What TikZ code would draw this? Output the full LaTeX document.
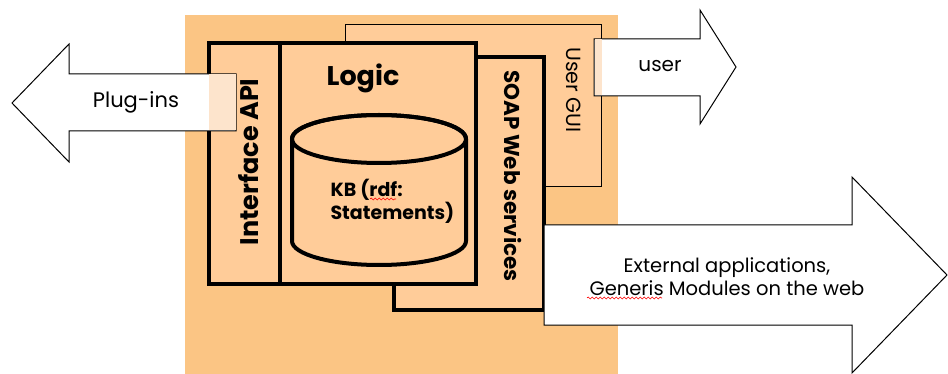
\documentclass[tikz,border=0pt]{standalone}
\usepackage{fontspec}
\setmainfont{Poppins}
\usetikzlibrary{positioning}
\usetikzlibrary{decorations.pathmorphing}

\definecolor{bgorange}{RGB}{251,197,132}
\definecolor{peach}{RGB}{255,204,153}
\definecolor{lightpeach}{RGB}{253,228,204}

\begin{document}
\begin{tikzpicture}[x=1pt, y=-1pt,
    box/.style={draw, fill=peach, inner sep=0pt},
    bigarrow/.style={draw, fill=white, line width=1pt, line join=miter},
    seen/.style={fill=lightpeach},
    squiggle/.style={red, line width=0.6pt, decorate,
      decoration={snake, amplitude=1pt, segment length=4pt}}]

  \useasboundingbox (0,0) rectangle (948,374);

	%background
	\fill[bgorange] (185,15) rectangle (618,374);

	%boxes: x/y/width/height/name/line width
    \foreach \x/\y/\w/\h/\name/\lw in {473.5/105.5/256/162/gui/1.5,
        469/183.5/150/253/soap/4.5, 244.5/163.5/71/241/api/4.5,
        378/163.5/196/241/logic/4.5}{
        \node[box, line width=\lw, minimum width=\w, minimum height=\h] (\name) at (\x,\y) {};
    }

	%knowledge base
	\draw[line width=4pt, fill=peach] (292,139) -- (292,241)
	    arc[start angle=180, end angle=0, x radius=87, y radius=24]
	    -- (466,139) arc[start angle=0, end angle=-180, x radius=87, y radius=24];
	\draw[line width=4pt] (379,139) ellipse[x radius=87, y radius=24];

	%labels
	\node[font=\bfseries\fontsize{27}{27}\selectfont] (logictxt) at (363,78) {Logic};
	\node[font=\bfseries\fontsize{25.5}{25}\selectfont, rotate=90] (apitxt) at (249,162) {Interface API};
	\node[font=\bfseries\fontsize{21.5}{20}\selectfont, rotate=-90] (soaptxt) at (513,176) {SOAP Web services};
	\node[font=\fontsize{20.5}{20}\selectfont, rotate=-90] (guitxt) at (574,90) {User GUI};
	\node[font=\bfseries\fontsize{19}{23}\selectfont, align=left, anchor=west] (kbtxt) at (327,201) {KB (rdf:\\Statements)};

	%arrows
	\draw[bigarrow] (236,74) -- (69,74) -- (69,44) -- (12,103) -- (69,162) -- (69,131) -- (236,131) -- cycle;
	\fill[seen] (209,74.5) rectangle (235.5,130.5);
	\draw[bigarrow] (594,39) -- (700,39) -- (700,10) -- (736,67) -- (700,124) -- (700,96) -- (594,96) -- cycle;
	\fill[seen] (594.5,39.5) rectangle (602,95.5);
	\draw[bigarrow] (544,225) -- (852,225) -- (852,177) -- (947,275) -- (852,373) -- (852,325) -- (544,325) -- cycle;

	\node[font=\fontsize{21}{21}\selectfont] (plugtxt) at (136,102) {Plug-ins};
	\node[font=\fontsize{20}{20}\selectfont] (usertxt) at (660,66) {user};
	\node[font=\fontsize{19.5}{23}\selectfont, align=center] (exttxt) at (727,277) {External applications,\\Generis Modules on the web};

	%spelling marks
	\draw[squiggle] (370,199) -- (396,199);
	\draw[squiggle] (587,298) -- (662,298);

\end{tikzpicture}
\end{document}
